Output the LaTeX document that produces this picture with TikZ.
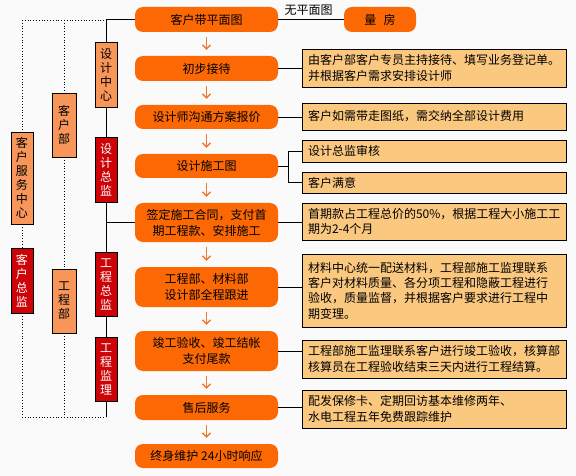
\documentclass[tikz,border=0pt]{standalone}
\usepackage{fontspec}
\setmainfont{Noto Sans CJK SC}
\usetikzlibrary{positioning, arrows.meta}

\definecolor{stepfill}{RGB}{252,104,4}
\definecolor{notefill}{RGB}{251,200,128}
\definecolor{deptfill}{RGB}{248,150,90}
\definecolor{headfill}{RGB}{204,4,8}
\definecolor{arrowcol}{RGB}{240,120,50}
\definecolor{bgcol}{RGB}{250,250,250}

\tikzset{
  stepbox/.style={rounded corners=8pt, fill=stepfill, minimum width=143pt,
    minimum height=25pt, inner sep=0pt, align=center,
    font=\fontsize{12pt}{16pt}\selectfont},
  notebox/.style={draw=black, fill=notefill, text width=252pt, inner xsep=6pt,
    inner ysep=0pt, align=left, font=\fontsize{12pt}{15.3pt}\selectfont},
  deptbox/.style={draw=black, fill=deptfill, minimum width=22pt, inner sep=0pt,
    align=center, font=\fontsize{12pt}{14pt}\selectfont},
  headbox/.style={deptbox, fill=headfill, text=white},
  flowarrow/.style={arrowcol, line width=1.4pt, shorten <=5pt, shorten >=6pt,
    -{Straight Barb[length=4pt, width=8pt]}},
  link/.style={black, line width=0.8pt},
  dots/.style={black, line width=0.8pt, dotted}
}

\begin{document}
\begin{tikzpicture}[x=1pt, y=-1pt]
\useasboundingbox (0,0) rectangle (576,476);
\fill[bgcol] (0,0) rectangle (576,476);

% Main flow
\node[stepbox] (s1) at (206.5,19.5) {客户带平面图};
\node[stepbox] (s2) at (206.5,68.5) {初步接待};
\node[stepbox, minimum height=24pt] (s3) at (206.5,117) {设计师沟通方案报价};
\node[stepbox, minimum height=24pt] (s4) at (206.5,166) {设计施工图};
\node[stepbox, minimum height=39pt] (s5) at (206.5,222.5) {签定施工合同，支付首\\期工程款、安排施工};
\node[stepbox, minimum height=40pt] (s6) at (206.5,287) {工程部、材料部\\设计部全程跟进};
\node[stepbox, minimum height=40pt] (s7) at (206.5,351) {竣工验收、竣工结帐\\支付尾款};
\node[stepbox] (s8) at (206.5,407.5) {售后服务};
\node[stepbox, minimum height=24pt] (s9) at (206.5,456) {终身维护 24小时响应};

\foreach \a/\b in {s1/s2, s2/s3, s3/s4, s4/s5, s5/s6, s6/s7, s7/s8, s8/s9}
  \draw[flowarrow] (\a) -- (\b);

% No floor plan branch
\node[stepbox, minimum width=72pt] (lf) at (380,19.5) {量\hspace{0.6em}房};
\node[font=\fontsize{12pt}{14pt}\selectfont, inner sep=0pt] (nofp) at (308.5,10.5) {无平面图};
\draw[link] (s1.east) -- (lf.west);

% Notes
\node[notebox, minimum height=38pt] (n1) at (434,68) {由客户部客户专员主持接待、填写业务登记单。\\并根据客户需求安排设计师};
\node[notebox, minimum height=27pt] (n2) at (434,116.5) {客户如需带走图纸，需交纳全部设计费用};
\node[notebox, minimum height=22pt] (n3) at (434,151) {设计总监审核};
\node[notebox, minimum height=21pt] (n4) at (434,182.5) {客户满意};
\node[notebox, minimum height=37pt] (n5) at (434,221.5) {首期款占工程总价的50\%，根据工程大小施工工\\期为2-4个月};
\node[notebox, minimum height=73pt] (n6) at (434,290.5) {材料中心统一配送材料，工程部施工监理联系\\客户对材料质量、各分项工程和隐蔽工程进行\\验收，质量监督，并根据客户要求进行工程中\\期变理。};
\node[notebox, minimum height=38pt] (n7) at (434,359) {工程部施工监理联系客户进行竣工验收，核算部\\核算员在工程验收结束三天内进行工程结算。};
\node[notebox, minimum height=38pt] (n8) at (434,409) {配发保修卡、定期回访基本维修两年、\\水电工程五年免费跟踪维护};

\foreach \a/\b in {s2/n1, s3/n2, s5/n5, s6/n6, s7/n7, s8/n8}
  \draw[link] (\a.east) -- (\a.east -| \b.west);
\coordinate (brk) at (288,166);
\draw[link] (s4.east) -- (brk);
\draw[link] (n3.west) -- (n3.west -| brk) -- (n4.west -| brk) -- (n4.west);

% Departments
\node[deptbox, minimum height=65pt] (sjzx) at (106,74.5) {设\\计\\中\\心};
\node[headbox, minimum height=65pt] (sjzj) at (106,169.5) {设\\计\\总\\监};
\node[headbox, minimum height=64pt] (gczj) at (106,284) {工\\程\\总\\监};
\node[headbox, minimum height=64pt] (gcjl) at (106,369) {工\\程\\监\\理};
\node[deptbox, minimum width=24pt, minimum height=64pt] (khb) at (64,125) {客\\户\\部};
\node[deptbox, minimum width=24pt, minimum height=64pt] (gcb) at (64,301) {工\\程\\部};
\node[deptbox, minimum height=92pt] (khfw) at (22,178) {客\\户\\服\\务\\中\\心};
\node[headbox, minimum height=65pt] (kzj) at (22,280.5) {客\\户\\总\\监};

\coordinate (tl) at (22,20);
\coordinate (tm) at (64,20);
\coordinate (tr) at (106,20);
\coordinate (bl) at (22,417);
\coordinate (bm) at (64,417);
\coordinate (br) at (106,417);

% Solid spine
\draw[link] (s1.west -| tr) -- (s1.west);
\draw[link] (tr) -- (sjzx.north);
\draw[link] (sjzx.south) -- (sjzj.north);
\draw[link] (sjzj.south) -- (gczj.north);
\draw[link] (gczj.south) -- (gcjl.north);
\draw[link] (gcjl.south) -- (br);
\draw[link] (s5.west -| tr) -- (s5.west);

% Dotted links
\draw[dots] (tl) -- (tr);
\draw[dots] (bl) -- (br);
\draw[dots] (tm) -- (khb.north);
\draw[dots] (khb.south) -- (gcb.north);
\draw[dots] (gcb.south) -- (bm);
\draw[dots] (tl) -- (khfw.north);
\draw[dots] (khfw.south) -- (kzj.north);
\draw[dots] (kzj.south) -- (bl);
\end{tikzpicture}
\end{document}
